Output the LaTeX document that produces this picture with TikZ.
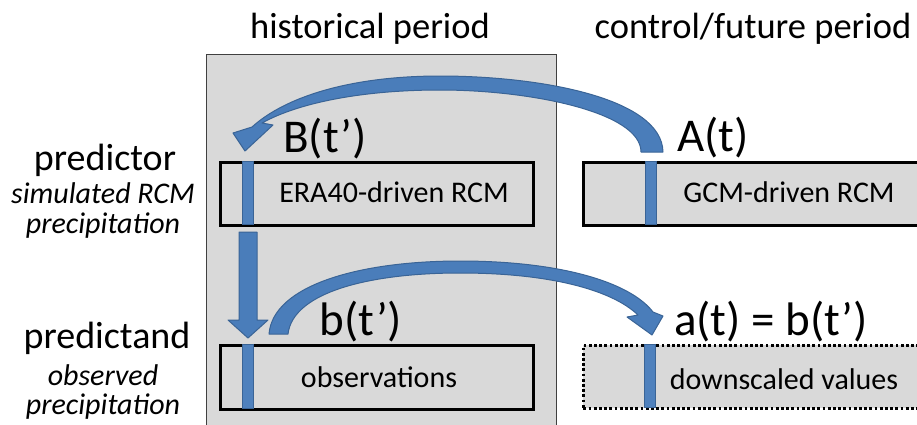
\documentclass[tikz,border=0pt]{standalone}
\usepackage{fontspec}
\setmainfont{Carlito}
\definecolor{panelgray}{HTML}{D9D9D9}
\definecolor{barblue}{HTML}{4F81BD}
\definecolor{baredge}{HTML}{3A6496}
\definecolor{arrowblue}{HTML}{4A7DBA}
\begin{document}
\begin{tikzpicture}[x=1pt,y=-1pt,
  box/.style={draw=black,line width=2.8pt,fill=panelgray,inner sep=0pt,anchor=north west},
  dotbox/.style={draw=black,line width=2.8pt,dash pattern=on 2.8pt off 2.4pt,fill=panelgray,inner sep=0pt,anchor=north west},
  bar/.style={draw=baredge,line width=1pt,fill=barblue,inner sep=0pt,minimum width=11pt,anchor=north},
  blueshape/.style={fill=arrowblue,draw=baredge,line width=1pt,line join=round},
  head/.style={font=\fontsize{36.5}{36.5}\selectfont,inner sep=0pt},
  big/.style={font=\fontsize{47}{47}\selectfont,inner sep=0pt},
  lab/.style={font=\fontsize{38}{38}\selectfont,inner sep=0pt},
  sub/.style={font=\fontsize{30}{30}\selectfont\itshape,inner sep=0pt},
  boxtxt/.style={font=\fontsize{30}{30}\selectfont,inner sep=0pt}]
\useasboundingbox (0,0) rectangle (917,424);
% panel
\node[draw=black!75,line width=1.2pt,fill=panelgray,minimum width=350pt,minimum height=380pt,inner sep=0pt,anchor=north west] (panel) at (206,54) {};
% headers
\node[head,anchor=base] (hist) at (370,38) {historical period};
\node[head,anchor=base] (fut) at (753,38) {control/future period};
% left labels
\node[lab,anchor=base] (pr) at (105,170) {predictor};
\node[sub,anchor=base] (pr1) at (103,203) {simulated RCM};
\node[sub,anchor=base] (pr2) at (103,233) {precipitation};
\node[lab,anchor=base] (pd) at (107,348) {predictand};
\node[sub,anchor=base] (pd1) at (103,385) {observed};
\node[sub,anchor=base] (pd2) at (103,414) {precipitation};
% boxes
\node[box,minimum width=313pt,minimum height=63pt] (era) at (219,161) {};
\node[box,minimum width=360pt,minimum height=63pt] (gcm) at (582,161) {};
\node[box,minimum width=313pt,minimum height=64pt] (obs) at (219,344) {};
\node[dotbox,minimum width=360pt,minimum height=63pt] (dsv) at (582,344) {};
% box texts
\node[boxtxt,anchor=base] (eratxt) at (394,202) {ERA40-driven RCM};
\node[boxtxt,anchor=base] (gcmtxt) at (789,202) {GCM-driven RCM};
\node[boxtxt,anchor=base] (obstxt) at (379,387) {observations};
\node[boxtxt,anchor=base] (dsvtxt) at (784,389) {downscaled values};
% bars
\node[bar,minimum height=63pt] (b1) at (248,161) {};
\node[bar,minimum height=63pt] (b2) at (651,161) {};
\node[bar,minimum height=64pt] (b3) at (248,344) {};
\node[bar,minimum height=63pt] (b4) at (650,344) {};
% labels above
\node[big,anchor=base] (B) at (325,152) {B(t’)};
\node[big,anchor=base] (A) at (713,151) {A(t)};
\node[big,anchor=base] (b) at (361,335) {b(t’)};
\node[big,anchor=base] (a) at (771,335) {a(t) = b(t’)};
% down arrow
\draw[blueshape] (239,232) -- (257,232) -- (257,320) -- (268,320) -- (248,338) -- (228,320) -- (239,320) -- cycle;
% top curved arrow (A -> B)
\draw[blueshape] (663,152) .. controls (662,98) and (540,76) .. (440,76)
  .. controls (350,76) and (285,97) .. (252,127)
  -- (233,133) -- (245,151) -- (273,125) -- (262,123)
  .. controls (300,102) and (365,90) .. (440,90)
  .. controls (530,90) and (641,112) .. (641,152) -- cycle;
% bottom curved arrow (b -> a)
\draw[blueshape] (269,334) .. controls (273,285) and (360,261) .. (460,261)
  .. controls (560,261) and (630,282) .. (653,312)
  -- (663,316) -- (652,335) -- (627,317) -- (638,315)
  .. controls (612,290) and (550,273) .. (460,273)
  .. controls (370,273) and (293,292) .. (288,334) -- cycle;
\end{tikzpicture}
\end{document}
